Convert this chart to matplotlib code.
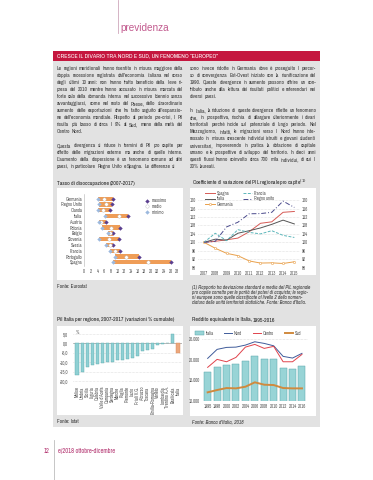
import matplotlib
matplotlib.use("Agg")
from matplotlib import pyplot as plt
from matplotlib.patches import Rectangle, Patch
from matplotlib.lines import Line2D
import numpy as np

W, H = 373, 480
FONT = ['Archivo Narrow', 'Liberation Sans', 'DejaVu Sans']
plt.rcParams['font.family'] = FONT

# --- dati: tasso di disoccupazione 2007-2017 ---
paesi = ['Germania', 'Regno Unito', 'Olanda', 'Italia', 'Austria', 'Polonia',
         'Belgio', 'Slovenia', 'Svezia', 'Francia', 'Portogallo', 'Spagna']
massimo = [8.7, 8.3, 7.8, 13.1, 6.4, 10.6, 8.7, 10.3, 8.7, 10.6, 16.6, 26.2]
medio = [6.0, 6.5, 5.6, 10.4, 5.1, 8.1, 7.8, 7.3, 7.6, 9.3, 12.5, 19.2]
minimo = [4.0, 4.5, 4.0, 6.2, 4.3, 5.2, 7.1, 4.5, 6.4, 7.7, 9.1, 8.5]

# --- dati: coefficiente di variazione PIL regionale pro capite ---
anni = [2007, 2008, 2009, 2010, 2011, 2012, 2013, 2014, 2015]
spagna = [100, 100.5, 101.2, 102.0, 105.0, 109.0, 109.7, 114.2, 114.6]
italia = [100, 101.5, 101.0, 104.3, 105.5, 106.8, 108.5, 110.5, 108.7]
germania = [100, 97.2, 94.8, 93.7, 91.2, 90.2, 90.3, 90.0, 90.8]
francia = [100, 104.3, 100.8, 106.0, 104.7, 104.0, 105.5, 103.3, 102.3]
regno_unito = [100, 100.5, 107.3, 109.5, 113.5, 113.6, 114.2, 119.5, 116.5]

# --- dati: Pil Italia per regione 2007-2017 ---
regioni = ['Molise', 'Umbria', 'Sicilia', 'Liguria', 'Calabria', "Valle d'Aosta",
           'Campania', 'Sardegna', 'Marche', 'Puglia', 'Piemonte', 'Lazio',
           'Friuli V.G.', 'Abruzzo', 'Toscana', 'Emilia-Romagna', 'Veneto',
           'Lombardia', 'Trentino A.A.', 'Basilicata', 'Italia']
var_pil = [-16.6, -15.3, -12.6, -11.7, -10.7, -10.2, -9.9, -9.7, -8.8, -8.7,
           -8.2, -7.5, -6.7, -4.2, -3.3, -3.0, -0.9, -0.1, 0.1, 5.2, -5.2]

# --- dati: reddito equivalente 1995-2016 ---
anni_r = ['1995', '1998', '2000', '2002', '2004', '2006', '2008', '2010', '2012', '2014', '2016']
r_italia = [16970, 18250, 18740, 18980, 19700, 20920, 20270, 20190, 18010, 17690, 18420]
r_nord = [20360, 22550, 23030, 23100, 23590, 24400, 24000, 23420, 20850, 20440, 21580]
r_centro = [18180, 20120, 19540, 20600, 23100, 23760, 22790, 23280, 19540, 19540, 21330]
r_sud = [12110, 12670, 13150, 13070, 13470, 14540, 13960, 13880, 13150, 13070, 13070]

testo_sx = [
    ["Le regioni meridionali hanno risentito in misura maggiore della",
     "doppia recessione registrata dall'economia italiana nel corso",
     "degli ultimi 10 anni: non hanno tratto beneficio della lieve ri-",
     "presa del 2010 mentre hanno accusato in misura marcata del",
     "forte calo della domanda interna nel successivo biennio senza",
     "avvantaggiarsi, come nel resto del Paese, dello straordinario",
     "aumento delle esportazioni che ha fatto seguito all'espansio-",
     "ne dell'economia mondiale. Rispetto al periodo pre-crisi, il Pil",
     "risulta più basso di circa il 9% al Sud, meno della metà del",
     "Centro Nord."],
    ["Questa divergenza si riduce in termini di Pil pro capite per",
     "effetto delle migrazioni esterne ma anche di quelle interne.",
     "L'aumento della dispersione è un fenomeno comune ad altri",
     "paesi, in particolare Regno Unito e Spagna. Le differenze si"],
]
testo_dx = [
    ["sono invece ridotte in Germania dove è proseguito il percor-",
     "so di convergenza Est-Ovest iniziato con la riunificazione del",
     "1990. Queste divergenze in aumento possono offrire un con-",
     "tributo anche alla lettura dei risultati politici e referendari nei",
     "diversi paesi."],
    ["In Italia, la riduzione di queste divergenze riflette un fenomeno",
     "che, in prospettiva, rischia di allargare ulteriormente i divari",
     "territoriali perché incide sul potenziale di lungo periodo. Nel",
     "Mezzogiorno, infatti, le migrazioni verso il Nord hanno inte-",
     "ressato in misura crescente individui istruiti e giovani studenti",
     "universitari, impoverendo in pratica la dotazione di capitale",
     "umano e le prospettive di sviluppo del territorio. In dieci anni",
     "questi flussi hanno coinvolto circa 700 mila individui, di cui il",
     "20% laureati."],
]

fig = plt.figure(figsize=(W / 100, H / 100), dpi=100)
renderer = fig.canvas.get_renderer()


def fx(x):
    return x / W


def fy(y):
    return 1 - y / H


def rect(x0, y0, x1, y1, color):
    fig.patches.append(Rectangle((fx(x0), fy(y1)), (x1 - x0) / W, (y1 - y0) / H,
                                 transform=fig.transFigure, color=color, zorder=-5, lw=0))


def ax_at(x0, y0, x1, y1):
    return fig.add_axes([fx(x0), fy(y1), (x1 - x0) / W, (y1 - y0) / H])


def txt(x, y, s, **kw):
    return fig.text(fx(x), fy(y), s, **kw)


def giustifica(paragrafi, x0, x1, y0, dy, size):
    # testo giustificato, parola per parola
    k = 0
    for par in paragrafi:
        for i, line in enumerate(par):
            y = y0 + k * dy
            parole = line.split()
            ts = [txt(0, y, p, fontsize=size, color='#3a3a3a', va='baseline') for p in parole]
            ws = [t.get_window_extent(renderer).width for t in ts]
            nat = sum(ws) + 0.9 * (len(parole) - 1)
            if nat > x1 - x0:
                for t in ts:
                    t.set_fontsize(size * (x1 - x0) / nat)
                ws = [t.get_window_extent(renderer).width for t in ts]
            if i == len(par) - 1 or len(parole) == 1:
                gap = 1.1
            else:
                gap = (x1 - x0 - sum(ws)) / (len(parole) - 1)
            x = x0
            for t, w in zip(ts, ws):
                t.set_position((fx(x), fy(y)))
                x += w + gap
            k += 1
        k += 1


# --- intestazione pagina ---
fig.add_artist(Line2D([fx(118), fx(118)], [fy(0), fy(33)], color='#cfa7bb', lw=0.6))
txt(120, 31, 'previdenza', fontsize=7.2, color='#c25a8e', family=['Liberation Sans', 'DejaVu Sans'],
    va='baseline')

# box grigio e titolo
rect(53, 51, 320, 427, '#e2e2e2')
rect(53, 51, 320, 60.5, '#c5173f')
txt(57, 56, 'CRESCE IL DIVARIO TRA NORD E SUD, UN FENOMENO \u201cEUROPEO\u201d',
    fontsize=4.4, color='white', weight='bold', va='center')

giustifica(testo_sx, 57, 183, 70, 7, 3.9)
giustifica(testo_dx, 190, 316, 70, 7, 3.9)

# pannelli bianchi dei grafici
rect(57, 188, 183, 280, 'white')
rect(190, 188, 316, 275, 'white')
rect(57, 326, 183, 415, 'white')
rect(190, 326, 316, 416, 'white')

tsz = 3.3
tcol = '#505050'
tit = 4.1

# titoli
t = txt(57, 183, 'Tasso di disoccupazione', fontsize=tit, weight='bold', color='#222', va='center')
txt(57 + t.get_window_extent(renderer).width + 1, 183, '(2007-2017)', fontsize=tit, color='#222', va='center')
txt(192, 183, 'Coefficiente di variazione del PIL regionale pro capite$^{(1)}$', fontsize=3.95,
    weight='bold', color='#222', va='center')
t = txt(57, 320, 'Pil Italia per regione,', fontsize=tit, weight='bold', color='#222', va='center')
txt(57 + t.get_window_extent(renderer).width + 1, 320, '2007-2017 (variazioni % cumulate)',
    fontsize=tit, color='#222', va='center')
t = txt(192, 320, 'Reddito equivalente in Italia,', fontsize=tit, weight='bold', color='#222', va='center')
txt(192 + t.get_window_extent(renderer).width + 1, 320, '1995-2016', fontsize=tit, color='#222', va='center')

# fonti e note
txt(57, 287, 'Fonte: Eurostat', fontsize=3.8, color='#333', va='center')
txt(57, 421.5, 'Fonte: Istat', fontsize=3.8, color='#333', va='center')
txt(192, 421.5, "Fonte: Banca d'Italia, 2018", fontsize=3.8, color='#333', va='center', style='italic')
nota = ["(1) Rapporto tra deviazione standard e media del PIL regionale",
        "pro capite corretto per le parità dei poteri di acquisto; le regio-",
        "ni europee sono quelle classificate al livello 2 della nomen-",
        "clatura delle unità territoriali statistiche. Fonte: Banca d'Italia."]
for i, line in enumerate(nota):
    txt(192, 287.5 + i * 5.1, line, fontsize=3.7, color='#333', va='center', style='italic')


def stile(ax):
    ax.set_facecolor('none')
    for s in ax.spines.values():
        s.set_visible(False)
    ax.tick_params(length=0, labelsize=tsz, labelcolor=tcol, pad=1.5)


# --- grafico 1: disoccupazione ---
ax1 = ax_at(84.3, 194, 177.3, 266)
stile(ax1)
yy = np.arange(len(paesi))
ax1.barh(yy, np.array(massimo) - np.array(minimo), left=minimo, height=0.75,
         color='#ef9d57', zorder=2)
ax1.scatter(massimo, yy, marker='D', s=5, color='#5b3f8f', zorder=3, lw=0, label='massimo')
ax1.scatter(medio, yy, marker='o', s=6, color='white', edgecolors='#bbbbbb', lw=0.3, zorder=3, label='medio')
ax1.scatter(minimo, yy, marker='D', s=5, color='#9cb9de', zorder=3, lw=0, label='minimo')
ax1.set_xlim(0, 28)
ax1.set_ylim(11.64, -0.81)
ax1.set_xticks(range(0, 29, 2))
ax1.set_yticks(yy)
ax1.set_yticklabels(paesi)
ax1.spines['left'].set_visible(True)
ax1.spines['left'].set_color('#b0b0b0')
ax1.spines['left'].set_linewidth(0.4)
ax1.tick_params(axis='x', pad=2)
ax1.legend(loc='upper left', bbox_to_anchor=(0.62, 0.98), frameon=False, fontsize=tsz,
           handletextpad=0.6, labelspacing=0.2, borderpad=0, handlelength=1, labelcolor=tcol)

# --- grafico 2: coefficiente di variazione ---
ax2 = ax_at(198, 188, 300, 268)
stile(ax2)
ax2.plot(anni, spagna, color='#d65a55', lw=0.7, label='Spagna')
ax2.plot(anni, italia, color='#555555', lw=0.7, label='Italia')
ax2.plot(anni, germania, color='#e9a04a', lw=0.7, marker='o', ms=1.6, mfc='white', mew=0.4,
         label='Germania')
ax2.plot(anni, francia, color='#5cb6ba', lw=0.7, ls=(0, (3, 1.5)), label='Francia')
ax2.plot(anni, regno_unito, color='#4a4a8c', lw=0.7, ls=(0, (5, 2, 1, 2)), label='Regno unito')
ax2.set_xlim(2006.47, 2015.5)
ax2.set_ylim(87.86, 125.7)
ax2.set_yticks(range(88, 121, 4))
ax2.set_xticks(anni)
ax2.grid(axis='y', color='#c8c8c8', lw=0.4, ls=(0, (1, 1.5)))
ax2.tick_params(axis='x', pad=2.5)
ax2b = ax2.twinx()
stile(ax2b)
ax2b.set_ylim(ax2.get_ylim())
ax2b.set_yticks(range(88, 121, 4))
ax2.legend(loc='upper left', bbox_to_anchor=(0.05, 0.995), ncol=2, frameon=False, fontsize=tsz,
           handlelength=2.0, handletextpad=0.4, labelspacing=0.15, columnspacing=2.2, borderpad=0,
           labelcolor=tcol)

# --- grafico 3: Pil per regione ---
ax3 = ax_at(72.5, 329, 181.5, 383)
stile(ax3)
xr = np.arange(len(regioni))
colori = ['#8fd0d3'] * (len(regioni) - 1) + ['#eca77c']
bordi = ['#5aa9ad'] * (len(regioni) - 1) + ['#d58a5a']
ax3.bar(xr, var_pil, width=0.62, color=colori, edgecolor=bordi, lw=0.3, zorder=2)
ax3.axhline(0, color='#9a9a9a', lw=0.5, zorder=1)
ax3.set_xlim(-0.9, 20.7)
ax3.set_ylim(-21.06, 7.66)
ax3.set_yticks([5, 0, -5, -10, -15, -20])
ax3.set_yticklabels(['5,0', '0,0', '-5,0', '-10,0', '-15,0', '-20,0'])
ax3.grid(axis='y', color='#c8c8c8', lw=0.4, ls=(0, (1, 1.5)), zorder=0)
ax3.set_xticks(xr)
ax3.set_xticklabels(regioni, rotation=90, va='top', ha='center')
ax3.tick_params(axis='y', pad=3)
ax3.tick_params(axis='x', pad=2.5)
ax3.text(0.03, 0.93, '%', transform=ax3.transAxes, fontsize=tsz, color=tcol, va='center')

# --- grafico 4: reddito equivalente ---
ax4 = ax_at(202, 330, 308, 401)
stile(ax4)
xa = np.arange(len(anni_r))
ax4.bar(xa, r_italia, width=0.74, color='#98d4d6', edgecolor='#5aa6aa', lw=0.35, zorder=2)
ax4.plot(xa, r_nord, color='#3f5b9a', lw=0.7, zorder=3)
ax4.plot(xa, r_centro, color='#e0434c', lw=0.7, zorder=3)
ax4.plot(xa, r_sud, color='#d08a3e', lw=1.4, zorder=3)
ax4.set_xlim(-0.6, 10.64)
ax4.set_ylim(10000, 27261)
ax4.set_yticks([10000, 15000, 20000, 25000])
ax4.set_yticklabels(['10.000', '15.000', '20.000', '25.000'])
ax4.axhline(25000, color='#c0c0c0', lw=0.4, ls=(0, (1, 1.5)), zorder=1)
ax4.axhline(10000, color='#9a9a9a', lw=0.4, zorder=1)
ax4.set_xticks(xa)
ax4.set_xticklabels(anni_r)
ax4.tick_params(axis='x', pad=2)
maniglie = [Patch(facecolor='#98d4d6', edgecolor='#5aa6aa', lw=0.35),
            Line2D([], [], color='#3f5b9a', lw=0.7),
            Line2D([], [], color='#e0434c', lw=0.7),
            Line2D([], [], color='#d08a3e', lw=1.4)]
ax4.legend(maniglie, ['Italia', 'Nord', 'Centro', 'Sud'], loc='center left',
           bbox_to_anchor=(-0.085, 0.955), ncol=4, frameon=False, fontsize=tsz, handlelength=1.8,
           handleheight=0.7, handletextpad=0.4, columnspacing=2.3, borderpad=0, labelcolor=tcol)

# --- piè di pagina ---
fig.add_artist(Line2D([fx(54), fx(54)], [fy(440), fy(480)], color='#bdbdbd', lw=0.6))
txt(50, 451, '12', fontsize=4.6, weight='bold', color='#b2306e', ha='right', va='center')
txt(57.5, 451, 'e/2018 ottobre-dicembre', fontsize=4.6, color='#b2306e', va='center')

fig.savefig('out.png', dpi=100)
